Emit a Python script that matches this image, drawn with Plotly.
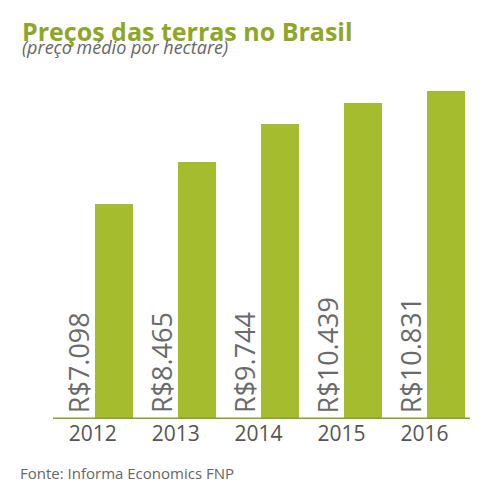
import plotly.graph_objects as go

anos = ["2012", "2013", "2014", "2015", "2016"]
precos = [7098, 8465, 9744, 10439, 10831]
rotulos = ["R$7.098", "R$8.465", "R$9.744", "R$10.439", "R$10.831"]

pos = list(range(len(anos)))
verde = "#A6BC2F"

fig = go.Figure(go.Bar(x=pos, y=precos, width=0.46, offset=0.03,
                       marker=dict(color=verde, line=dict(width=0)),
                       hoverinfo="skip"))

for i, t in zip(pos, rotulos):
    fig.add_annotation(x=i - 0.17, y=0, text=t, textangle=-90, showarrow=False,
                       xanchor="center", yanchor="bottom", yshift=4,
                       font=dict(family="Open Sans", size=27, color="#6a6a6a"))

fig.add_shape(type="line", xref="paper", yref="y", x0=0, x1=1, y0=0, y1=0,
              line=dict(color="#8E9F27", width=3))

fig.update_layout(
    width=490, height=493, plot_bgcolor="white", paper_bgcolor="white",
    margin=dict(l=45, r=28, t=73, b=82), showlegend=False, bargap=0,
    xaxis=dict(range=[-0.48, 4.55], tickvals=pos, ticktext=anos, showgrid=False,
               zeroline=False, showline=False, ticks="",
               tickfont=dict(family="Open Sans", size=21, color="#555555")),
    yaxis=dict(range=[0, 11150], visible=False, showgrid=False),
    annotations=list(fig.layout.annotations) + [
        dict(text="<b>Preços das terras no Brasil</b>", xref="paper", yref="paper",
             x=-0.08, y=1.205, xanchor="left", yanchor="top", showarrow=False,
             font=dict(family="Open Sans", size=25, color="#8FA628")),
        dict(text="<i>(preço médio por hectare)</i>", xref="paper", yref="paper",
             x=-0.08, y=1.1, xanchor="left", yanchor="middle", showarrow=False,
             font=dict(family="Open Sans", size=18, color="#666666")),
        dict(text="Fonte: Informa Economics FNP", xref="paper", yref="paper",
             x=-0.085, y=-0.16, xanchor="left", yanchor="middle", showarrow=False,
             font=dict(family="Open Sans", size=15, color="#666666")),
    ],
)

fig.write_html("out.html")
